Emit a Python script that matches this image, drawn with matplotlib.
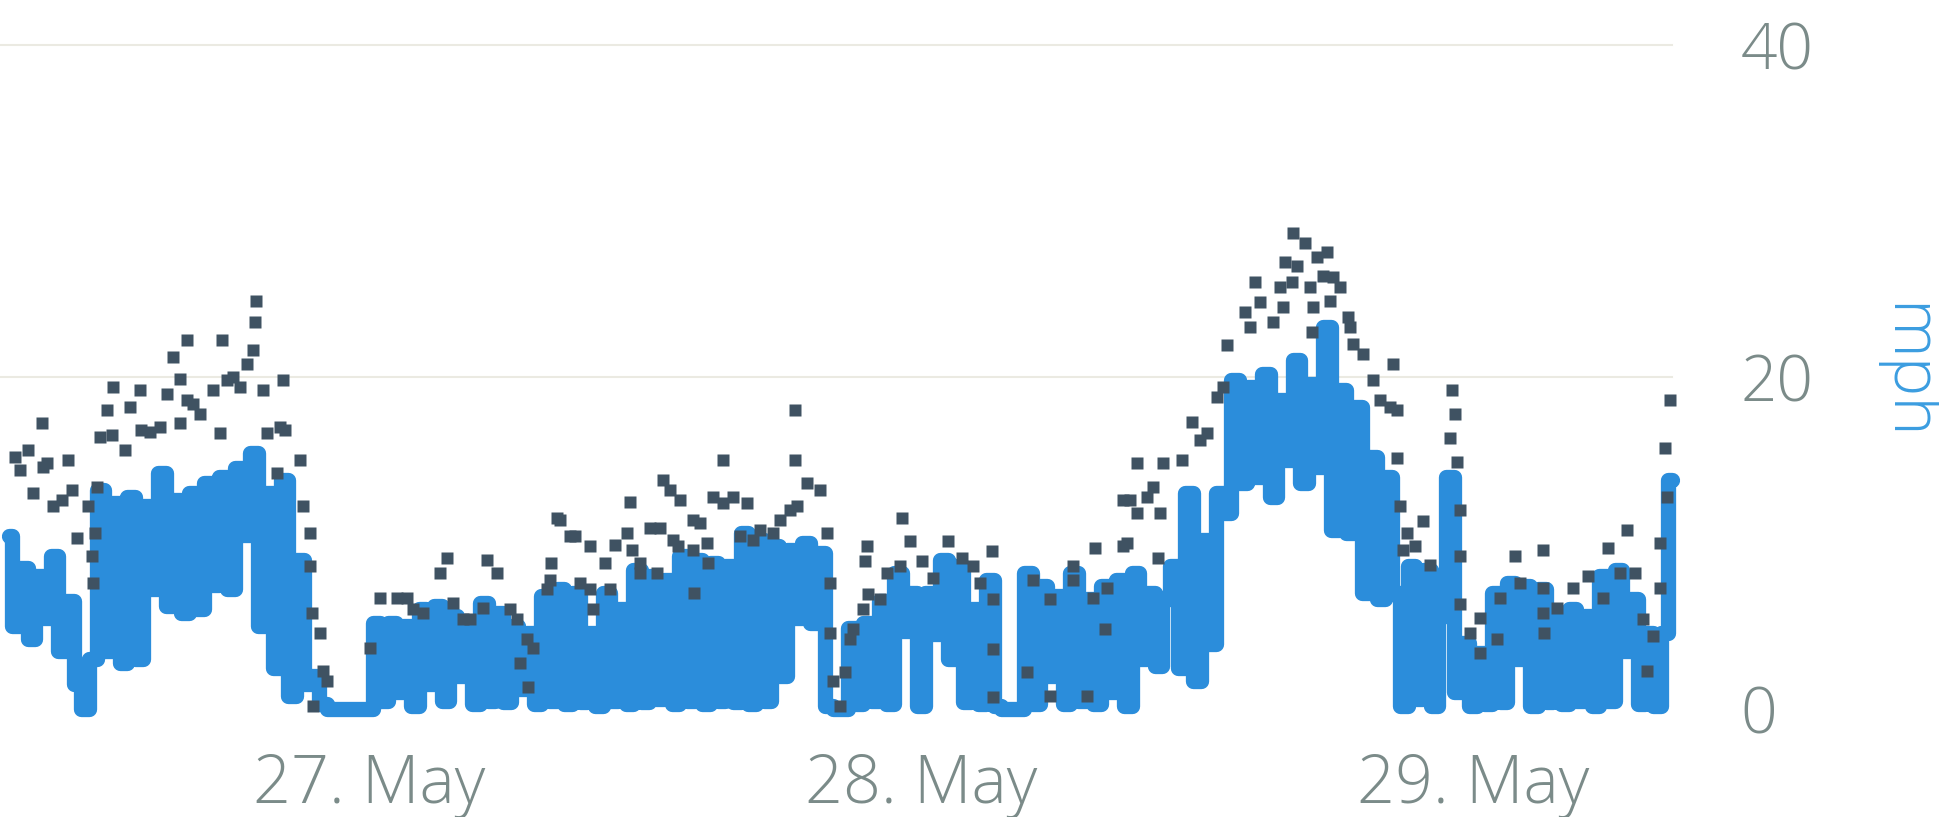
import numpy as np
import pandas as pd
import matplotlib
matplotlib.use("Agg")
import matplotlib.pyplot as plt
import matplotlib.dates as mdates

# ---- data -------------------------------------------------------------
day0 = pd.Timestamp("2015-05-26 00:00")
speed_start = pd.Timestamp("2015-05-26 08:20")
speed_step = "20min"

# average wind speed (mph), one reading every 20 minutes
speed_mph = [
    10.4, 5.0, 8.5, 4.2, 8.0, 5.5, 9.2, 3.5, 6.5, 1.5, 0.0, 3.0,
    13.2, 3.5, 12.4, 2.8, 12.8, 3.0, 12.2, 7.2, 14.2, 6.2, 12.6, 5.8, 13.0, 6.0,
    13.6, 7.5, 14.0, 7.2, 14.5, 10.5, 15.4,
    5.0, 13.0, 2.5, 13.8, 0.8, 9.0, 1.5, 2.0, 0.3, 0.0, 0.0, 0.0, 0.0, 0.0, 0.0,
    5.2, 0.5, 5.2, 1.0, 5.0, 0.2, 6.0, 1.5, 6.2, 0.5, 5.6, 2.0, 5.2, 0.3, 6.4,
    0.5, 5.8, 0.4, 5.0, 1.2, 4.6, 0.3,
    6.8, 0.5, 7.2, 0.3, 7.0, 0.4, 4.6, 0.2, 7.0, 0.5, 6.0, 0.3, 8.4, 0.4, 8.0,
    0.6, 7.8, 0.3, 9.2, 0.5,
    9.0, 0.3, 8.8, 0.5, 8.6, 0.4, 10.6, 0.3, 10.2, 0.5, 9.8, 2.0, 9.6, 5.5,
    10.0, 5.2, 9.4, 0.2, 0.0, 0.0,
    4.9, 0.3, 5.2, 0.5, 6.5, 0.3, 8.2, 4.7, 7.0, 0.2, 7.0, 4.5, 9.0, 3.0, 8.6,
    0.4, 6.0, 0.3, 7.8, 0.2, 0.0, 0.0, 0.0,
    8.2, 0.3, 7.4, 2.0, 6.8, 0.3, 8.2, 0.5, 6.6, 0.3, 7.4, 1.0, 7.8, 0.2, 8.2,
    3.0, 7.0, 2.6, 6.6, 8.6, 2.5,
    13.0, 1.7, 10.2, 3.9, 13.0, 11.8, 19.8, 13.6, 19.4, 14.0, 20.2, 12.8, 18.6,
    15.0, 21.0, 13.6, 19.6, 14.6, 23.0, 10.8, 19.2, 10.6, 18.2, 7.0, 15.2, 6.6,
    14.0, 7.0,
    0.2, 8.6, 0.6, 8.4, 0.2, 5.6, 14.0, 1.0, 4.0, 0.2, 3.4, 0.3, 7.0, 0.4, 7.6,
    3.0, 7.4, 0.2, 7.2, 0.4, 5.4, 0.3, 6.0, 0.5, 5.6, 0.2, 8.0, 0.5, 8.4, 3.5,
    6.6, 0.3, 4.6, 0.2, 4.6, 13.8,
]

# gusts: hours after midnight of 26 May, and gust speed (mph)
gust_hours = [
    8.61, 8.83, 9.17, 9.39, 9.78, 9.83, 10.0, 10.26, 10.65, 10.91,
    11.09, 11.30, 11.78, 11.96, 12.0, 12.09, 12.17, 12.30, 12.61, 12.83,
    12.87, 13.39, 13.61, 14.04, 14.1, 14.48, 14.91, 15.22, 15.48, 15.78,
    15.8, 16.09, 16.1, 16.35, 16.65, 17.22, 17.52, 17.61, 17.83, 18.09,
    18.39, 18.70, 18.96, 19.04, 19.1, 19.39, 19.57, 20.0, 20.13, 20.26,
    20.35, 21.0, 21.13, 21.43, 21.45, 21.52, 21.57, 21.87, 22.0, 22.17,
    24.04, 24.48, 25.22, 25.65, 25.91, 26.35, 27.09, 27.39, 27.65, 28.09,
    28.39, 28.96, 29.13, 29.57, 30.13, 30.43, 30.57, 30.87, 30.9, 31.13,
    31.74, 31.87, 31.9, 32.17, 32.30, 32.74, 32.96, 33.17, 33.61, 33.62,
    33.74, 34.26, 34.48, 34.70, 35.22, 35.35, 35.43, 35.78, 35.8, 36.22,
    36.52, 36.65, 36.78, 37.09, 37.22, 37.43, 37.52, 38.09, 38.1, 38.12,
    38.39, 38.70, 38.72, 38.96, 39.39, 39.4, 39.83, 40.13, 40.43, 40.70,
    41.0, 41.57, 41.87, 42.30, 42.52, 42.53, 42.61, 43.04, 43.61, 43.91,
    44.04, 44.05, 44.17, 44.48, 44.70, 44.91, 45.04, 45.48, 45.57, 45.65,
    45.7, 46.22, 46.52, 47.09, 47.17, 47.52, 48.04, 48.52, 49.17, 49.78,
    50.26, 50.57, 51.09, 51.13, 51.14, 51.15, 52.61, 52.87, 53.61, 53.62,
    54.61, 54.62, 55.22, 55.48, 55.57, 56.0, 56.09, 56.78, 56.79, 56.96,
    57.09, 57.39, 57.4, 57.83, 58.09, 58.30, 58.39, 58.52, 59.35, 59.78,
    60.13, 60.43, 60.87, 61.13, 61.30, 62.09, 62.30, 62.52, 62.74, 63.30,
    63.61, 63.74, 63.83, 64.13, 64.17, 64.35, 64.70, 64.91, 65.0, 65.04,
    65.22, 65.48, 65.65, 65.78, 65.91, 66.22, 66.57, 66.65, 66.78, 67.22,
    67.65, 67.96, 68.39, 68.52, 68.70, 68.71, 68.83, 68.96, 69.13, 69.48,
    69.83, 70.13, 71.0, 71.09, 71.22, 71.30, 71.43, 71.44, 71.45, 71.87,
    72.30, 72.31, 73.04, 73.17, 73.83, 74.04, 75.04, 75.05, 75.06, 75.07,
    75.65, 76.35, 77.0, 77.65, 77.87, 78.39, 78.70, 79.04, 79.39, 79.57,
    79.83, 80.13, 80.14, 80.35, 80.43, 80.57,
]
gust_mph = [
    15.2, 14.4, 15.6, 13.0, 17.2, 14.6, 14.8, 12.2, 12.6, 15.0,
    13.2, 10.3, 12.2, 9.2, 7.6, 10.6, 13.4, 16.4, 18.0, 16.5,
    19.4, 15.6, 18.2, 19.2, 16.8, 16.7, 17.0, 19.0, 21.2, 19.9,
    17.2, 22.2, 18.6, 18.4, 17.8, 19.2, 16.6, 22.2, 19.8, 20.0,
    19.4, 20.8, 21.6, 23.3, 24.6, 19.2, 16.6, 14.2, 17.0, 19.8,
    16.8, 15.0, 12.2, 10.6, 8.6, 5.8, 0.2, 4.6, 2.3, 1.7,
    3.7, 6.7, 6.7, 6.7, 6.0, 5.8, 8.2, 9.1, 6.4, 5.4,
    5.4, 6.1, 9.0, 8.2, 6.0, 5.4, 2.8, 4.2, 1.3, 3.7,
    7.2, 7.8, 8.8, 11.5, 11.4, 10.4, 10.4, 7.6, 9.8, 7.2,
    6.0, 8.8, 7.2, 9.9, 10.6, 12.5, 9.6, 8.8, 8.2, 10.9,
    8.2, 10.9, 13.8, 13.2, 10.2, 9.8, 12.6, 11.4, 9.6, 7.0,
    11.2, 10.0, 8.8, 12.8, 15.0, 12.4, 12.8, 10.4, 12.4, 10.2,
    10.8, 10.6, 11.4, 12.0, 15.0, 18.0, 12.2, 13.6, 13.2, 10.6,
    7.6, 4.6, 1.7, 0.2, 2.2, 4.2, 4.8, 6.0, 8.9, 9.8,
    6.9, 6.6, 8.2, 8.6, 11.5, 10.1, 8.9, 7.9, 10.1, 9.1,
    8.6, 7.6, 9.5, 6.6, 3.6, 0.7, 2.2, 7.8, 6.6, 0.8,
    8.6, 7.8, 0.8, 6.7, 9.7, 4.8, 7.3, 9.8, 12.6, 10.0,
    12.6, 11.8, 14.8, 12.8, 13.4, 9.1, 11.8, 14.8, 15.0, 17.3,
    16.2, 16.6, 18.8, 19.4, 21.9, 23.9, 23.0, 25.7, 24.5, 23.3,
    25.4, 24.2, 26.9, 25.7, 28.7, 26.7, 28.1, 25.4, 22.7, 24.2,
    27.2, 26.1, 27.5, 24.6, 26.0, 25.4, 23.6, 23.0, 22.0, 21.4,
    19.8, 18.6, 18.2, 20.8, 18.0, 15.1, 12.2, 9.6, 10.6, 9.8,
    11.3, 8.7, 16.3, 19.2, 17.8, 14.9, 12.0, 9.2, 6.3, 4.6,
    5.5, 3.4, 4.2, 6.7, 9.2, 7.6, 9.6, 7.3, 5.8, 4.6,
    6.1, 7.3, 8.0, 6.7, 9.7, 8.2, 10.8, 8.2, 5.4, 2.3,
    4.4, 10.0, 7.3, 15.7, 12.8, 18.6,
]

x_tick_days = ["2015-05-27", "2015-05-28", "2015-05-29"]
y_ticks = [0, 20, 40]
unit_label = "mph"

# ---- styling ----------------------------------------------------------
plt.rcParams["font.family"] = ["Open Sans", "DejaVu Sans"]
SPEED_COLOR = "#2b8ddb"
GUST_COLOR = "#3f5262"
LABEL_GREY = "#7b8b89"
TITLE_BLUE = "#3b9de0"
GRID_COLOR = "#ebeae2"

times = pd.date_range(speed_start, periods=len(speed_mph), freq=speed_step)
gust_times = day0 + pd.to_timedelta(gust_hours, unit="h")

W, H = 1939, 817
fig = plt.figure(figsize=(W / 100, H / 100), dpi=100)
ax = fig.add_axes([0.0, 108 / H, 1700 / W, 664 / H])

x_left = day0 + pd.Timedelta(hours=7.957)
x_right = day0 + pd.Timedelta(hours=81.87)
ax.set_xlim(x_left, x_right)
ax.set_ylim(0, 40)
for sp in ax.spines.values():
    sp.set_visible(False)

# horizontal grid lines at 20 and 40 (the 0 line sits under the data)
for yv in y_ticks[1:]:
    ax.plot([x_left, times[-1]], [yv, yv], color=GRID_COLOR, lw=1.5,
            zorder=0, clip_on=False)

ax.set_yticks(y_ticks)
ax.yaxis.tick_right()

ax.plot(times, speed_mph, color=SPEED_COLOR, lw=11, drawstyle="steps-mid",
        solid_joinstyle="round", solid_capstyle="round",
        clip_on=False, zorder=2)
ax.plot(gust_times, gust_mph, ls="none", marker="s", ms=8.5,
        mfc=GUST_COLOR, mec="none", zorder=3, clip_on=False)

ax.set_xticks(pd.to_datetime(x_tick_days))
ax.xaxis.set_major_formatter(mdates.DateFormatter("%d. %b"))
ax.tick_params(axis="x", length=0, pad=31, labelsize=48,
               labelcolor=LABEL_GREY)
ax.tick_params(axis="y", length=0, pad=29, labelsize=46,
               labelcolor=LABEL_GREY)
for lab in ax.get_xticklabels() + ax.get_yticklabels():
    lab.set_fontweight("light")

fig.text(1905 / W, 1 - 372 / H, unit_label, rotation=270,
         ha="center", va="center", fontsize=48, color=TITLE_BLUE,
         fontweight="light")

fig.savefig("out.png", dpi=100, facecolor="white")
